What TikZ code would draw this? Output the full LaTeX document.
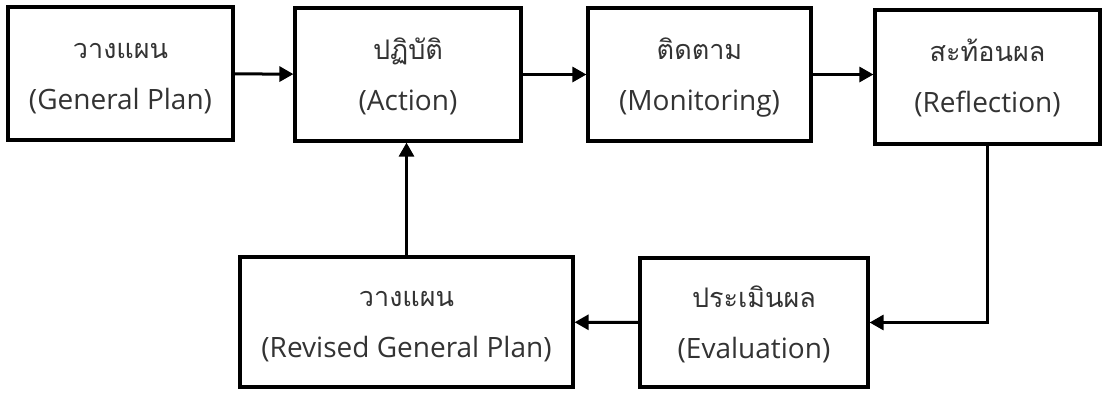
\documentclass[tikz,border=0pt]{standalone}
\usepackage{fontspec}
\setmainfont{Open Sans}
\newfontfamily\thaifont[Script=Thai]{Loma}
\usetikzlibrary{arrows.meta}
\definecolor{txt}{HTML}{333333}
\tikzset{
  box/.style={draw=black, line width=3.2pt, fill=white, text=txt, align=center,
    inner sep=0pt, font=\fontsize{28}{51}\selectfont},
  conn/.style={line width=3pt, -{Triangle[length=14pt,width=15pt]}},
}
\newcommand{\twolines}[2]{\raisebox{-5pt}{\begin{tabular}{@{}c@{}}{\fontsize{27}{51}\thaifont #1}\\#2\end{tabular}}}
\begin{document}
\begin{tikzpicture}[x=1pt,y=-1pt]
\useasboundingbox[fill=white] (0,0) rectangle (1102,392);
\node[box, minimum width=225pt, minimum height=133pt] (plan) at (120.5,73.5)
  {\twolines{วางแผน}{(General Plan)}};
\node[box, minimum width=226pt, minimum height=133pt] (act) at (408,74.5)
  {\twolines{ปฏิบัติ}{(Action)}};
\node[box, minimum width=223pt, minimum height=133pt] (mon) at (699.5,74.5)
  {\twolines{ติดตาม}{(Monitoring)}};
\node[box, minimum width=225pt, minimum height=134pt] (ref) at (987.5,77)
  {\twolines{สะท้อนผล}{(Reflection)}};
\node[box, minimum width=228pt, minimum height=129pt] (eva) at (754,322.5)
  {\twolines{ประเมินผล}{(Evaluation)}};
\node[box, minimum width=333pt, minimum height=130pt] (rev) at (406.5,322)
  {\twolines{วางแผน}{(Revised General Plan)}};
\draw[conn] (plan) -- (act);
\draw[conn] (act) -- (mon);
\draw[conn] (mon.east) -- (ref.west |- mon.east);
\draw[conn] (ref.south) |- (eva.east);
\draw[conn] (eva) -- (rev);
\draw[conn] (rev.north) -- (rev.north |- act.south);
\end{tikzpicture}
\end{document}
